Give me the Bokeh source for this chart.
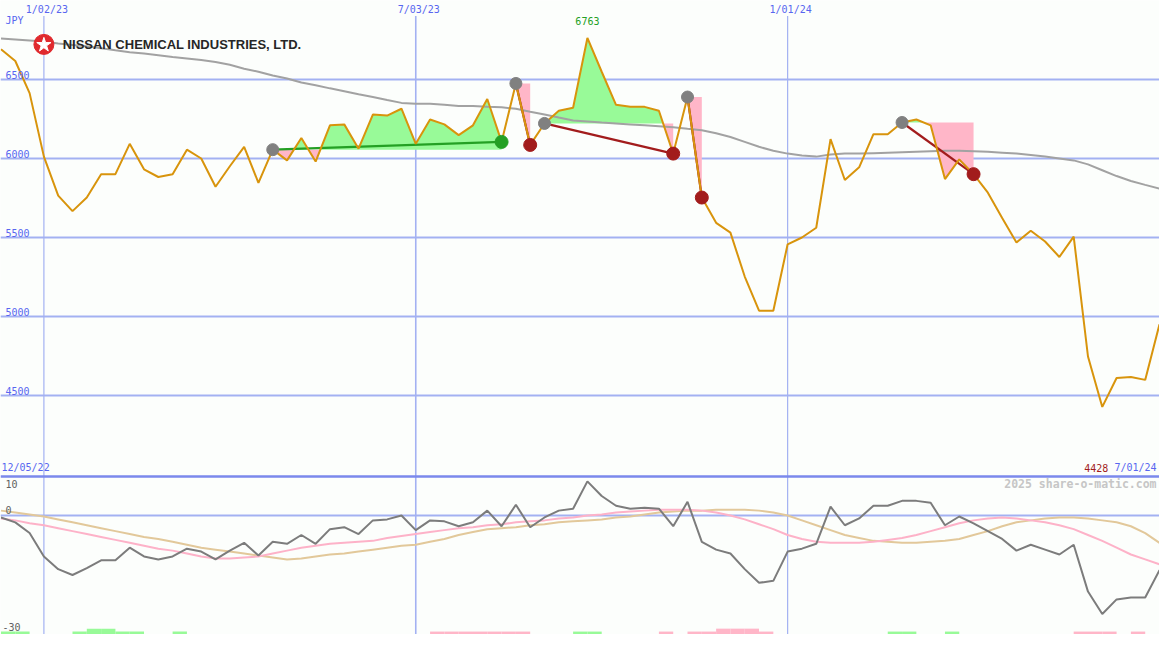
import numpy as np
from bokeh.plotting import figure
from bokeh.models import Range1d
from bokeh.core.properties import value
from bokeh.embed import file_html
from bokeh.resources import INLINE

# ---------------- data (weekly, week 0 = 12/05/22) ----------------
weeks = list(range(1, 83))
price = [6691, 6617, 6414, 6012, 5765, 5667, 5753, 5901, 5901, 6093,
         5932, 5883, 5901, 6056, 6000, 5821, 5951, 6074, 5846, 6056,
         5988, 6130, 5981, 6210, 6216, 6062, 6278, 6272, 6315, 6093,
         6247, 6216, 6148, 6210, 6377, 6105, 6475, 6086, 6222, 6302,
         6321, 6763, 6549, 6340, 6327, 6327, 6302, 6031, 6389, 5753,
         5593, 5531, 5253, 5037, 5037, 5457, 5500, 5562, 6123, 5864,
         5944, 6154, 6154, 6228, 6247, 6210, 5870, 5994, 5901, 5784,
         5623, 5469, 5543, 5475, 5377, 5506, 4747, 4428, 4611, 4617,
         4599, 4951]
ma_long = [6759, 6753, 6747, 6741, 6728, 6719, 6710, 6698, 6685, 6673,
           6664, 6654, 6642, 6633, 6623, 6611, 6593, 6568, 6549, 6525,
           6506, 6481, 6463, 6444, 6426, 6407, 6389, 6370, 6352, 6346,
           6346, 6340, 6333, 6333, 6327, 6324, 6315, 6296, 6278, 6259,
           6241, 6235, 6228, 6222, 6216, 6210, 6204, 6198, 6188, 6179,
           6160, 6136, 6105, 6074, 6049, 6031, 6019, 6012, 6025, 6031,
           6031, 6034, 6037, 6040, 6043, 6046, 6049, 6049, 6046, 6043,
           6037, 6031, 6022, 6012, 6000, 5988, 5963, 5926, 5889, 5858,
           5833, 5809]
osc = [-0.5, -1.75, -4.5, -10.5, -13.75, -15.25, -13.5, -11.5, -11.5, -8.25,
       -10.5, -11.25, -10.5, -8.5, -9.25, -11.25, -9, -7, -10.25, -6.75,
       -7.25, -5, -7.25, -3.5, -3, -4.75, -1.25, -1, 0, -3.75,
       -1.25, -1.5, -2.75, -1.75, 1.25, -2.75, 2.75, -3, -0.5, 1.25,
       1.75, 8.75, 5, 2.5, 1.75, 2, 1.75, -2.75, 3.5, -6.75,
       -8.75, -9.75, -13.75, -17.25, -16.75, -9.25, -8.5, -7.25, 2.25, -2.5,
       -0.75, 2.5, 2.5, 3.75, 3.75, 3.25, -2.5, -0.25, -2, -4,
       -6, -9, -7.5, -8.75, -10, -7.5, -19.5, -25.25, -21.5, -21,
       -21, -14]
osc_fast = [-0.75, -1.25, -2, -2.5, -3.25, -4, -4.75, -5.5, -6.25, -7,
            -7.75, -8.5, -9, -9.75, -10.5, -11, -11, -10.75, -10.5, -9.75,
            -9, -8.25, -7.75, -7.25, -7, -6.75, -6.5, -5.75, -5.25, -4.75,
            -4.25, -3.75, -3.25, -3, -2.5, -2.25, -1.75, -1.5, -1.25, -0.75,
            -0.5, 0, 0.25, 0.75, 1, 1.25, 1.5, 1.5, 1.5, 1.25,
            0.75, 0, -1, -2.25, -3.5, -5, -6, -6.75, -7, -7,
            -7, -6.75, -6.25, -5.75, -5, -4, -3, -2, -1.25, -0.75,
            -0.5, -0.75, -1.25, -1.75, -2.5, -3.5, -5, -6.5, -8.25, -10,
            -11.25, -12.5]
osc_slow = [1.25, 0.75, 0.25, -0.25, -1, -1.75, -2.5, -3.25, -4, -4.75,
            -5.5, -6, -6.75, -7.5, -8.25, -8.75, -9.25, -9.75, -10.25, -10.75,
            -11.25, -11, -10.5, -10, -9.75, -9.25, -8.75, -8.25, -7.75, -7.5,
            -6.75, -6, -5, -4.25, -3.5, -3.25, -3, -2.5, -2.25, -1.75,
            -1.5, -1.25, -1, -0.5, -0.25, 0.25, 0.75, 1, 1.25, 1.25,
            1.5, 1.5, 1.5, 1.25, 0.75, 0, -1.25, -2.5, -3.75, -5,
            -5.75, -6.5, -6.75, -7, -7, -6.75, -6.5, -6, -5, -4,
            -2.75, -1.75, -1.25, -0.75, -0.5, -0.5, -0.75, -1.25, -1.75, -2.75,
            -4.5, -7]
signal_weeks = [1, 2, 6, 7, 8, 9, 10, 13, 31, 32, 33, 34, 35, 36, 37, 41, 42, 47,
                49, 50, 51, 52, 53, 54, 63, 64, 67, 76, 77, 78, 80]
signal_strength = [1, 1, 1, 2, 2, 1, 1, 1, -1, -1, -1, -1, -1, -1, -1, 1, 1, -1,
                   -1, -1, -2, -2, -2, -1, 1, 1, 1, -1, -1, -1, -1]
trend_start = [20, 37, 39, 49, 64]
trend_end = [36, 38, 48, 50, 69]
trend_up = [True, False, False, False, False]
price_ticks = [4500, 5000, 5500, 6000, 6500]
osc_ticks = [10, 0, -30]
date_weeks = [4, 30, 56]
date_labels = ["1/02/23", "7/03/23", "1/01/24"]
start_label, end_label = "12/05/22", "7/01/24"
company = "NISSAN CHEMICAL INDUSTRIES, LTD."
currency = "JPY"
watermark = "2025 share-o-matic.com"

# ---------------- layout / styles ----------------
W, H = 1159, 634
REF_W, REF_H = 1175, 650
X0, X1 = 4 - 44 / 14.5, 82
Y_TOP = 7000.0
Y_BOT = 6000 - (650 - 162) * 500 / 81
O_TOP, O_BOT = 132.0, -30.5

BG = "#fcfefc"
GRID = "#a3b1f2"
SEP = "#7b89ec"
BLUE = "#5866f0"
ORANGE = "#d8940c"
MA_GRAY = "#a2a2a2"
GREEN_FILL = "#98fa98"
PINK_FILL = "#ffb6c8"
GREEN = "#24a024"
RED = "#a21c1c"
DOT_GRAY = "#808080"
MONO = value("DejaVu Sans Mono")


def px_x(px):
    return X0 + (X1 - X0) * px / REF_W


def px_y(py):
    return Y_TOP - (Y_TOP - Y_BOT) * py / REF_H


p = figure(width=W, height=H, x_range=Range1d(X0, X1), y_range=Range1d(Y_BOT, Y_TOP),
           output_backend="svg", toolbar_location=None,
           x_axis_location=None, y_axis_location=None, min_border=0,
           background_fill_color=BG, border_fill_color=BG, outline_line_color=None)
p.extra_y_ranges = {"osc": Range1d(O_BOT, O_TOP)}
p.xgrid.visible = False
p.ygrid.visible = False

# grid lines
p.hspan(y=price_ticks, line_color=GRID, line_width=2)
p.hspan(y=[0], line_color=GRID, line_width=2, y_range_name="osc")
p.segment(x0=date_weeks, x1=date_weeks, y0=[px_y(16)] * 3, y1=[Y_BOT] * 3,
          line_color=GRID, line_width=[1.2, 1.6, 1.2])

# fills between price and pivot level
pw = dict(zip(weeks, price))
for s, e in zip(trend_start, trend_end):
    level = pw[s]
    ws = list(range(s, e + 1))
    ps = [pw[w] for w in ws]
    xs, ys = [ws[0]], [ps[0]]
    for i in range(1, len(ws)):
        a, b = ps[i - 1] - level, ps[i] - level
        if a * b < 0:
            t = a / (a - b)
            xs.append(ws[i - 1] + t)
            ys.append(level)
        xs.append(ws[i])
        ys.append(ps[i])
    ys = np.array(ys, dtype=float)
    p.varea(x=xs, y1=[level] * len(xs), y2=np.maximum(ys, level), fill_color=GREEN_FILL)
    p.varea(x=xs, y1=[level] * len(xs), y2=np.minimum(ys, level), fill_color=PINK_FILL)

# long moving average
p.line(weeks, ma_long, line_color=MA_GRAY, line_width=2)

# trend lines
for s, e, up in zip(trend_start, trend_end, trend_up):
    p.line([s, e], [pw[s], pw[e]], line_color=GREEN if up else RED, line_width=2.2)

# price
p.line(weeks, price, line_color=ORANGE, line_width=2)

# pivot dots
p.scatter(trend_start, [pw[s] for s in trend_start], size=12, color=DOT_GRAY)
p.scatter(trend_end, [pw[e] for e in trend_end], size=13,
          color=[GREEN if u else RED for u in trend_up])

# ---- lower panel ----
p.hspan(y=[osc_ticks[0]], line_color=SEP, line_width=2.5, y_range_name="osc")
p.line(weeks, osc_slow, line_color="#e2c89a", line_width=2, y_range_name="osc")
p.line(weeks, osc_fast, line_color="#fdb2c8", line_width=2, y_range_name="osc")
p.line(weeks, osc, line_color="#7c7c7c", line_width=2, y_range_name="osc")
p.quad(left=signal_weeks, right=[w + 1 for w in signal_weeks],
       bottom=[O_BOT] * len(signal_weeks),
       top=[O_BOT + abs(v) * 0.75 for v in signal_strength],
       fill_color=[GREEN_FILL if v > 0 else PINK_FILL for v in signal_strength],
       line_color=None, y_range_name="osc")

# ---- texts ----
p.text(x=[px_x(5)] * len(price_ticks), y=price_ticks, text=[str(t) for t in price_ticks],
       text_font=MONO, text_font_size="10px", text_color=BLUE,
       text_align="left", text_baseline="bottom", y_offset=-1)
p.text(x=[px_x(5)], y=[px_y(21)], text=[currency], text_font=MONO, text_font_size="10px",
       text_color=BLUE, text_align="left", text_baseline="middle")
p.text(x=date_weeks, y=[px_y(9)] * 3, text=date_labels, text_font=MONO,
       text_font_size="10px", text_color=BLUE, text_align="center",
       text_baseline="middle", x_offset=3)

imax = int(np.argmax(price))
imin = int(np.argmin(price))
p.text(x=[weeks[imax]], y=[price[imax]], text=[str(price[imax])], text_font=MONO,
       text_font_size="10px", text_color=GREEN, text_align="center",
       text_baseline="bottom", y_offset=-13)
p.text(x=[px_x(1)], y=[px_y(479)], text=[start_label], text_font=MONO,
       text_font_size="10px", text_color=BLUE, text_align="left", text_baseline="middle")
p.text(x=[px_x(1172)], y=[px_y(479)], text=[end_label], text_font=MONO,
       text_font_size="10px", text_color=BLUE, text_align="right", text_baseline="middle")
p.text(x=[px_x(1123)], y=[px_y(479)], text=[str(price[imin])], text_font=MONO,
       text_font_size="10px", text_color=RED, text_align="right", text_baseline="middle")
p.text(x=[px_x(1172)], y=[px_y(496)], text=[watermark], text_font=MONO,
       text_font_size="11.5px", text_font_style="bold", text_color="#c6c6c6",
       text_align="right", text_baseline="middle")
p.text(x=[px_x(5)], y=[osc_ticks[0]], text=[str(osc_ticks[0])], text_font=MONO,
       text_font_size="10px", text_color="#606060", text_align="left",
       text_baseline="top", y_offset=4, y_range_name="osc")
p.text(x=[px_x(5), px_x(2)], y=osc_ticks[1:], text=[str(t) for t in osc_ticks[1:]],
       text_font=MONO, text_font_size="10px", text_color="#606060", text_align="left",
       text_baseline="bottom", y_offset=-2, y_range_name="osc")

# logo + company name
p.scatter([px_x(44)], [px_y(45)], size=20, marker="circle", color="#e02a2e")
p.scatter([px_x(44)], [px_y(45.5)], size=15, marker="star", color="white")
p.text(x=[px_x(63)], y=[px_y(45)], text=[company], text_font=value("Liberation Sans"),
       text_font_size="13px", text_font_style="bold", text_color="#262626",
       text_align="left", text_baseline="middle")

open("out.html", "w").write(file_html(p, INLINE))
